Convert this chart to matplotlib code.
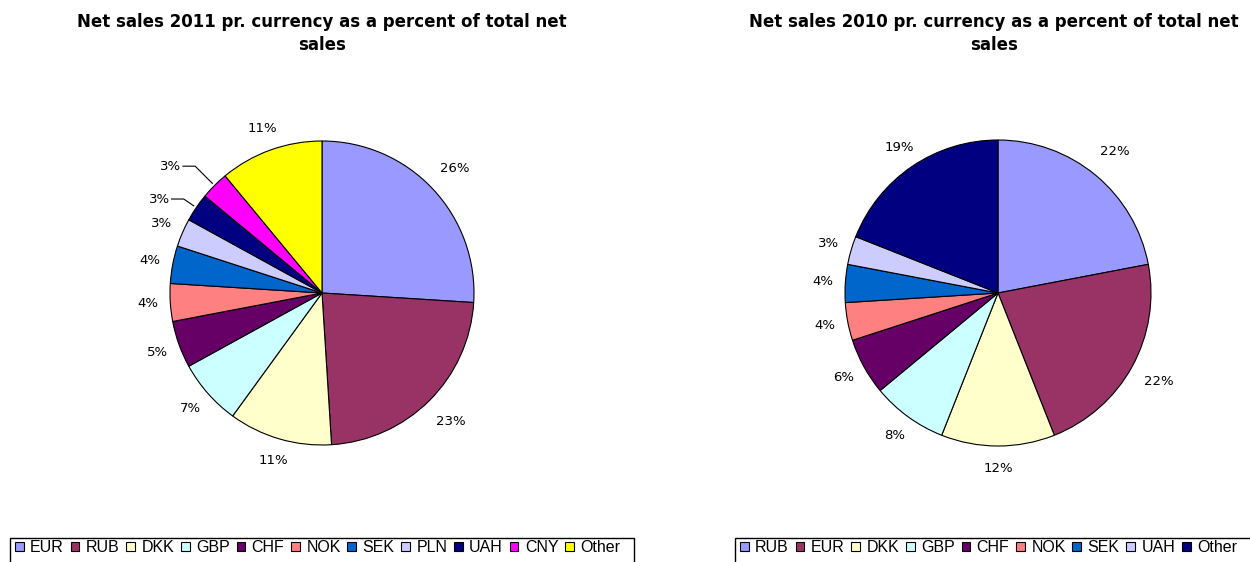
import numpy as np
import matplotlib
matplotlib.use("Agg")
import matplotlib.pyplot as plt
from matplotlib.patches import Patch, Rectangle

W, H = 1250, 562

left_title = "Net sales 2011 pr. currency as a percent of total net\nsales"
left_labels = ["EUR", "RUB", "DKK", "GBP", "CHF", "NOK", "SEK", "PLN", "UAH", "CNY", "Other"]
left_values = [26, 23, 11, 7, 5, 4, 4, 3, 3, 3, 11]
left_colors = ["#9999FF", "#993366", "#FFFFCC", "#CCFFFF", "#660066", "#FF8080",
               "#0066CC", "#CCCCFF", "#000080", "#FF00FF", "#FFFF00"]

right_title = "Net sales 2010 pr. currency as a percent of total net\nsales"
right_labels = ["RUB", "EUR", "DKK", "GBP", "CHF", "NOK", "SEK", "UAH", "Other"]
right_values = [22, 22, 12, 8, 6, 4, 4, 3, 19]
right_colors = ["#9999FF", "#993366", "#FFFFCC", "#CCFFFF", "#660066", "#FF8080",
                "#0066CC", "#CCCCFF", "#000080"]

# labels drawn with leader lines (label -> elbow distance in radii)
left_leaders = {"UAH": 1.10, "CNY": 1.18}
right_leaders = {}

fig = plt.figure(figsize=(W / 100, H / 100), dpi=100)
fig.patch.set_facecolor("white")

LBL_FONT = dict(family="DejaVu Sans", size=9.5)


def draw_pie(cx, cy, R, values, colors, labels, leaders, title, tx, legend_x0, legend_x1):
    s = 1.5
    ax = fig.add_axes([(cx - s * R) / W, (H - cy - s * R) / H, 2 * s * R / W, 2 * s * R / H])
    wedges, _ = ax.pie(values, colors=colors, startangle=90, counterclock=False, radius=1,
                       wedgeprops=dict(edgecolor="black", linewidth=0.8))
    ax.set_xlim(-s, s)
    ax.set_ylim(-s, s)
    ax.axis("off")
    for w, v, lab in zip(wedges, values, labels):
        th = np.deg2rad((w.theta1 + w.theta2) / 2)
        c, sn = np.cos(th), np.sin(th)
        txt = f"{v}%"
        if lab in leaders:
            d = leaders[lab]
            ex, ey = 1.02 * c, 1.02 * sn
            bx, by = d * c, d * sn
            hx = bx - 0.08
            ax.plot([ex, bx, hx], [ey, by, by], color="black", lw=0.8)
            ax.text(hx - 0.01, by, txt, ha="right", va="center", **LBL_FONT)
        else:
            d = 1.2 if c > 0.2 else 1.15
            ax.text(d * c, d * sn, txt, ha="center", va="center", **LBL_FONT)
    fig.text(tx / W, 1 - 33.5 / H, title, ha="center", va="center", multialignment="center",
             family="DejaVu Sans", weight="bold", size=12, linespacing=1.36)
    handles = [Patch(facecolor=col, edgecolor="black", linewidth=0.8) for col in colors]
    fig.legend(handles, labels, ncol=len(labels), loc="upper left",
               bbox_to_anchor=(legend_x0 / W + 0.004, 1 - 540 / H), frameon=False,
               borderaxespad=0, borderpad=0, handlelength=0.55, handleheight=0.55,
               handletextpad=0.4, columnspacing=0.42,
               prop=dict(family="Liberation Sans", size=11.5))
    fig.patches.append(Rectangle((legend_x0 / W, -0.05), (legend_x1 - legend_x0) / W,
                                 0.05 + (1 - 538 / H), transform=fig.transFigure,
                                 fill=False, edgecolor="black", linewidth=1))


draw_pie(322, 293, 152, left_values, left_colors, left_labels, left_leaders,
         left_title, 322, 10, 634)
draw_pie(998, 293, 153, right_values, right_colors, right_labels, right_leaders,
         right_title, 994, 735, 1262)

fig.savefig("out.png", dpi=100, facecolor="white")
